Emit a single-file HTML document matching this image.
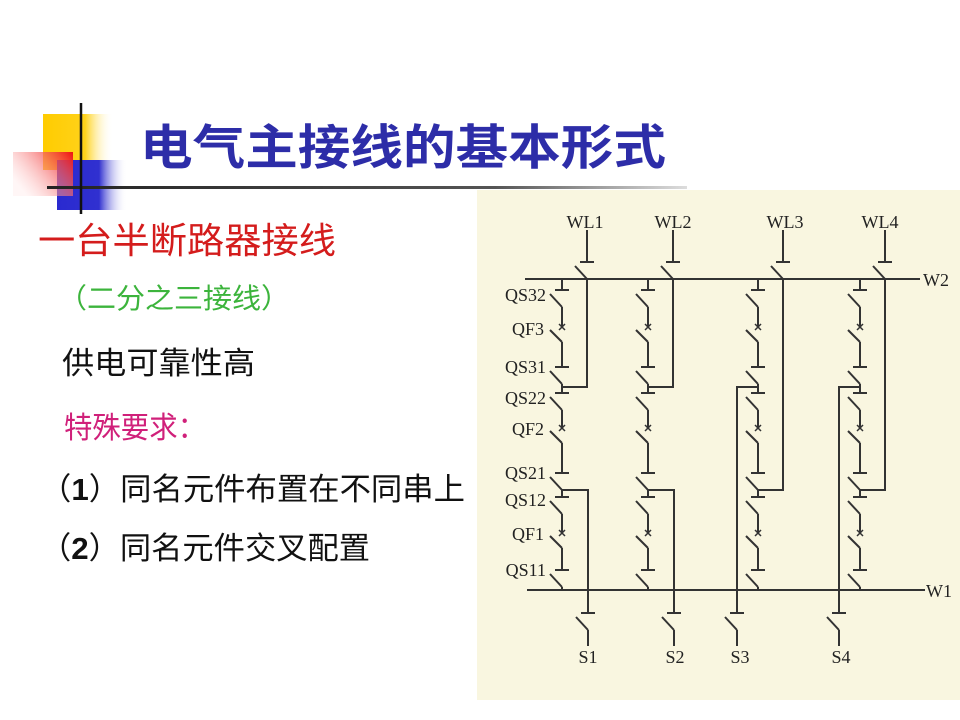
<!DOCTYPE html>
<html><head><meta charset="utf-8"><style>
html,body{margin:0;padding:0;background:#fff;}
svg{display:block;}
</style></head><body>
<svg width="960" height="720" viewBox="0 0 960 720" xmlns="http://www.w3.org/2000/svg">
<defs>
<linearGradient id="gy" x1="0" x2="1"><stop offset="0" stop-color="#ffcc00"/><stop offset="0.6" stop-color="#ffd21a"/><stop offset="1" stop-color="#fff" stop-opacity="0"/></linearGradient>
<linearGradient id="gr" x1="1" x2="0" y1="0" y2="0.6"><stop offset="0" stop-color="#ee1111"/><stop offset="1" stop-color="#ffe0e0" stop-opacity="0.3"/></linearGradient>
<linearGradient id="gb" x1="0" x2="1"><stop offset="0" stop-color="#2a2ad0"/><stop offset="0.6" stop-color="#3030d0"/><stop offset="1" stop-color="#fff" stop-opacity="0"/></linearGradient>
<linearGradient id="gl" x1="0" x2="1"><stop offset="0" stop-color="#222"/><stop offset="0.7" stop-color="#555"/><stop offset="1" stop-color="#ddd"/></linearGradient>
<g id="sw" stroke="#333" stroke-width="2" fill="none"><line x1="-7" y1="0" x2="7" y2="0"/><line x1="-12" y1="4" x2="0" y2="17"/></g>
<g id="br" stroke="#333" stroke-width="2" fill="none"><line x1="-3" y1="-3" x2="3" y2="3" stroke-width="1.5"/><line x1="-3" y1="3" x2="3" y2="-3" stroke-width="1.5"/><line x1="-12" y1="3" x2="0" y2="15"/></g>
<g id="col" stroke="#333" stroke-width="2" fill="none">
<line x1="0" y1="279" x2="0" y2="290"/><use href="#sw" y="290"/>
<line x1="0" y1="307" x2="0" y2="327"/><use href="#br" y="327"/>
<line x1="0" y1="342" x2="0" y2="367"/><use href="#sw" y="367"/>
<line x1="0" y1="384" x2="0" y2="393"/><use href="#sw" y="393"/>
<line x1="0" y1="410" x2="0" y2="428"/><use href="#br" y="428"/>
<line x1="0" y1="443" x2="0" y2="473"/><use href="#sw" y="473"/>
<line x1="0" y1="490" x2="0" y2="497"/><use href="#sw" y="497"/>
<line x1="0" y1="514" x2="0" y2="533"/><use href="#br" y="533"/>
<line x1="0" y1="548" x2="0" y2="570"/><use href="#sw" y="570"/>
<line x1="0" y1="587" x2="0" y2="590"/>
</g>
<g id="feed" stroke="#333" stroke-width="2" fill="none"><line x1="0" y1="230" x2="0" y2="262"/><use href="#sw" y="262"/></g>
<g id="sdn" stroke="#333" stroke-width="2" fill="none"><use href="#sw" y="613"/><line x1="0" y1="630" x2="0" y2="646"/></g>
</defs>

<rect x="43" y="114" width="70" height="56" fill="url(#gy)"/>
<rect x="57" y="160" width="70" height="50" fill="url(#gb)"/>
<rect x="13" y="152" width="60" height="44" fill="url(#gr)"/>
<rect x="47" y="186" width="640" height="3" fill="url(#gl)"/>
<line x1="81" y1="103" x2="81" y2="214" stroke="#111" stroke-width="2.5"/>

<text x="140" y="164" font-family="'Liberation Sans','Noto Sans CJK SC',sans-serif" font-size="48" font-weight="bold" fill="#2d2da8" textLength="526" lengthAdjust="spacingAndGlyphs">电气主接线的基本形式</text>

<g font-family="'Liberation Sans','Noto Sans CJK SC',sans-serif">
<text x="38" y="253" font-size="36" fill="#d41c1c" textLength="298" lengthAdjust="spacingAndGlyphs">一台半断路器接线</text>
<text x="58" y="308" font-size="28" fill="#3cb43c" textLength="232" lengthAdjust="spacingAndGlyphs">（二分之三接线）</text>
<text x="62" y="374" font-size="31" fill="#111" textLength="193" lengthAdjust="spacingAndGlyphs">供电可靠性高</text>
<text x="64" y="438" font-size="30" fill="#d0207a" textLength="142" lengthAdjust="spacingAndGlyphs">特殊要求：</text>
<text x="40" y="500" font-size="31" fill="#111" textLength="425" lengthAdjust="spacingAndGlyphs">（<tspan font-weight="bold">1</tspan>）同名元件布置在不同串上</text>
<text x="40" y="559" font-size="31" fill="#111" textLength="330" lengthAdjust="spacingAndGlyphs">（<tspan font-weight="bold">2</tspan>）同名元件交叉配置</text>
</g>

<rect x="477" y="190" width="483" height="510" fill="#f9f6e0"/>

<g stroke="#333" stroke-width="2" fill="none">
<line x1="525" y1="279" x2="920" y2="279"/>
<line x1="527" y1="590" x2="925" y2="590"/>
<polyline points="587,279 587,387 562,387"/>
<polyline points="673,279 673,387 648,387"/>
<polyline points="783,279 783,490 758,490"/>
<polyline points="885,279 885,490 860,490"/>
<polyline points="562,490 588,490 588,613"/>
<polyline points="648,490 674,490 674,613"/>
<polyline points="758,387 737,387 737,613"/>
<polyline points="860,387 839,387 839,613"/>
</g>
<use href="#col" x="562"/><use href="#col" x="648"/><use href="#col" x="758"/><use href="#col" x="860"/>
<use href="#feed" x="587"/><use href="#feed" x="673"/><use href="#feed" x="783"/><use href="#feed" x="885"/>
<use href="#sdn" x="588"/><use href="#sdn" x="674"/><use href="#sdn" x="737"/><use href="#sdn" x="839"/>

<g font-family="'Liberation Serif',serif" font-size="18" fill="#222">
<text x="585" y="228" text-anchor="middle">WL1</text>
<text x="673" y="228" text-anchor="middle">WL2</text>
<text x="785" y="228" text-anchor="middle">WL3</text>
<text x="880" y="228" text-anchor="middle">WL4</text>
<text x="923" y="286">W2</text>
<text x="926" y="597">W1</text>
<g text-anchor="end">
<text x="546" y="301">QS32</text>
<text x="544" y="335">QF3</text>
<text x="546" y="373">QS31</text>
<text x="546" y="404">QS22</text>
<text x="544" y="435">QF2</text>
<text x="546" y="479">QS21</text>
<text x="546" y="506">QS12</text>
<text x="544" y="540">QF1</text>
<text x="546" y="576">QS11</text>
</g>
<text x="588" y="663" text-anchor="middle">S1</text>
<text x="675" y="663" text-anchor="middle">S2</text>
<text x="740" y="663" text-anchor="middle">S3</text>
<text x="841" y="663" text-anchor="middle">S4</text>
</g>
</svg>
</body></html>
